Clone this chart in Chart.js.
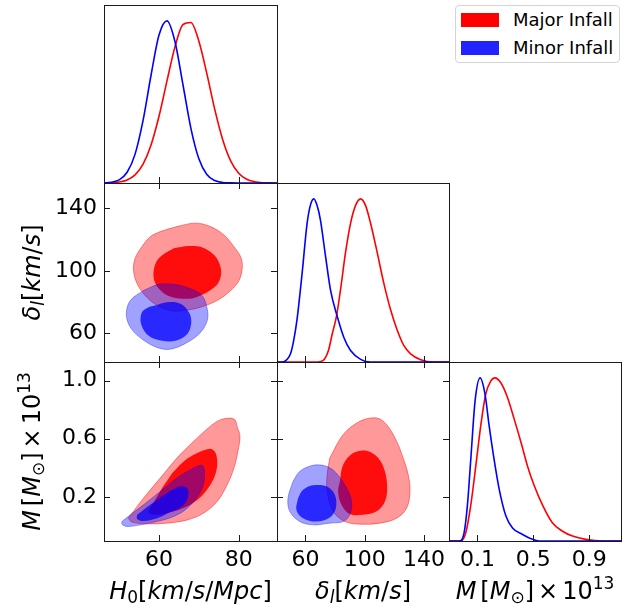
<!DOCTYPE html>
<html>
<head>
<meta charset="utf-8">
<script src="https://cdn.jsdelivr.net/npm/chart.js@4.4.0/dist/chart.umd.min.js"></script>
<style>
  body { margin: 0; background: #fff; }
  #fig { position: relative; width: 643px; height: 610px; overflow: hidden; }
  #fig canvas { position: absolute; left: 0; top: 0; pointer-events: none; }
  .legend { position: absolute; left: 455px; top: 5px; width: 163px; height: 56px; border: 1px solid #d4d4d4; border-radius: 4px; background: #fff; font: 18px "DejaVu Sans"; color: #000; }
  .legend .sw { position: absolute; left: 5px; width: 38px; height: 14px; }
  .legend .lab { position: absolute; left: 57px; line-height: 20px; white-space: nowrap; }
</style>
</head>
<body>
<div id="fig">
  <div class="legend" id="legend"></div>
</div>
<script>
// series
const seriesNames = ["Major Infall", "Minor Infall"];

// tick labels
const h0Ticks = [60, 80];
const deltaTicks = [60, 100, 140];
const massRowTicks = [0.2, 0.6, 1.0];
const massColTicks = [0.1, 0.5, 0.9];

// 1D marginals (peak normalised to 1)
const h0Grid = [46, 48, 50, 52, 54, 56, 58, 60, 62, 64, 66, 68, 70, 72, 74, 76, 78, 80, 82, 84, 86, 88, 90];
const h0Major = [0.0005, 0.002, 0.006, 0.019, 0.050, 0.116, 0.234, 0.411, 0.629, 0.839, 0.976, 0.989, 0.874, 0.674, 0.452, 0.265, 0.135, 0.060, 0.023, 0.008, 0.002, 0.0006, 0.0001];
const h0Minor = [0.0009, 0.005, 0.019, 0.066, 0.178, 0.386, 0.664, 0.912, 0.999, 0.872, 0.607, 0.337, 0.149, 0.052, 0.015, 0.003, 0.0005, 0, 0, 0, 0, 0, 0];

const deltaMajorX = [41, 68, 71, 73, 75.5, 78.0, 80.9, 83.6, 87.0, 90.4, 93.8, 97.2, 100.5, 103.9, 108.4, 112.9, 117.4, 121.9, 126.4, 130.9, 137.7, 146.7, 157];
const deltaMajorY = [0, 0, 0.005, 0.02, 0.07, 0.17, 0.28, 0.44, 0.67, 0.85, 0.96, 1.0, 0.96, 0.85, 0.67, 0.48, 0.32, 0.195, 0.10, 0.05, 0.014, 0, 0];
const deltaMinorX = [41, 45.3, 47.5, 49.9, 52, 54.3, 57.7, 61.1, 63.3, 65.6, 67.8, 70.1, 73.5, 76.9, 81.4, 85.9, 90.4, 97.2, 103.9, 157];
const deltaMinorY = [0, 0.002, 0.015, 0.05, 0.13, 0.26, 0.54, 0.85, 0.96, 1.0, 0.96, 0.87, 0.65, 0.44, 0.28, 0.15, 0.07, 0.016, 0, 0];

const massMajorX = [-0.104, -0.02, 0.016, 0.052, 0.088, 0.124, 0.159, 0.195, 0.224, 0.267, 0.315, 0.362, 0.41, 0.458, 0.506, 0.566, 0.638, 0.709, 0.781, 0.876, 0.996, 1.128];
const massMajorY = [0, 0, 0.05, 0.22, 0.46, 0.71, 0.9, 0.98, 1.0, 0.97, 0.88, 0.75, 0.61, 0.46, 0.34, 0.22, 0.11, 0.06, 0.03, 0.01, 0, 0];
const massMinorX = [-0.104, -0.032, 0.004, 0.028, 0.052, 0.083, 0.119, 0.154, 0.183, 0.219, 0.255, 0.303, 0.351, 0.423, 0.494, 0.542, 1.128];
const massMinorY = [0, 0, 0.05, 0.22, 0.5, 0.86, 1.0, 0.9, 0.71, 0.5, 0.32, 0.155, 0.08, 0.04, 0.01, 0, 0];

// 2D credible regions (outer = 95%, inner = 68%)
const h0DeltaMajorOuter = [[60.3,125.2],[64.5,128.4],[69.2,130.6],[72.9,128.4],[76.3,123.0],[78.8,115.5],[80.5,109.0],[80.9,102.6],[80.1,94.0],[78.0,87.5],[74.6,81.1],[70.4,76.8],[66.2,74.6],[62.8,74.6],[59.5,77.9],[56.5,84.3],[54.5,91.9],[53.6,100.5],[54.0,108.0],[55.7,115.5],[57.8,121.9]];
const h0DeltaMajorInner = [[63.7,114.5],[67.5,115.9],[70.4,115.5],[73.4,111.2],[75.0,105.8],[75.6,99.4],[75.0,92.9],[73.4,88.6],[70.4,84.3],[67.5,82.2],[63.3,83.2],[60.8,86.5],[59.1,91.9],[58.6,98.3],[59.3,105.8],[60.8,110.1]];
const h0DeltaMinorOuter = [[56.1,87.5],[59.9,91.4],[63.7,91.4],[67.9,88.6],[70.8,84.3],[72.1,75.7],[72.1,68.2],[70.4,60.6],[67.1,54.2],[62.8,49.9],[59.5,51.0],[55.7,56.4],[52.8,63.9],[51.8,72.5],[52.8,81.1]];
const h0DeltaMinorInner = [[59.1,77.9],[62.0,80.0],[65.4,79.0],[67.5,73.5],[68.1,67.1],[67.1,59.6],[64.1,55.3],[60.8,55.3],[57.4,58.5],[55.5,66.1],[55.7,73.5],[57.4,76.8]];

const h0MassMajorOuter = [[52.3,0.053],[56.1,0.191],[60.3,0.329],[64.5,0.467],[68.7,0.582],[72.9,0.686],[75.5,0.731],[78.8,0.736],[79.7,0.674],[80.3,0.617],[79.8,0.513],[78.8,0.398],[77.1,0.283],[74.6,0.168],[71.2,0.088],[67.1,0.041],[62.0,0.019],[57.0,0.014],[53.2,0.026]];
const h0MassMajorInner = [[63.3,0.363],[66.2,0.444],[69.6,0.501],[72.9,0.531],[74.2,0.501],[74.6,0.421],[73.8,0.329],[71.7,0.237],[69.6,0.179],[66.6,0.129],[62.8,0.094],[59.1,0.076],[57.4,0.094],[58.6,0.157],[60.8,0.26]];
const h0MassMinorOuter = [[50.7,0.03],[52.8,0.076],[56.1,0.145],[60.3,0.237],[64.5,0.329],[68.7,0.398],[70.8,0.417],[71.4,0.375],[71.2,0.294],[70.0,0.214],[67.1,0.122],[63.7,0.065],[59.5,0.03],[55.3,0.007],[51.9,-0.004],[50.7,0.012]];
const h0MassMinorInner = [[54.5,0.076],[57.8,0.145],[62.0,0.226],[65.4,0.272],[67.2,0.255],[67.2,0.191],[65.8,0.134],[62.8,0.094],[59.5,0.053],[56.1,0.034],[54.5,0.048]];

const deltaMassMajorOuter = [[76.4,0.467],[85.4,0.628],[96.7,0.72],[108.0,0.743],[114.7,0.697],[121.5,0.582],[125.9,0.467],[129.3,0.352],[130.5,0.237],[128.2,0.122],[121.5,0.053],[110.2,0.019],[96.7,0.012],[86.6,0.03],[78.6,0.1],[74.6,0.237],[74.6,0.352]];
const deltaMassMajorInner = [[83.2,0.306],[85.4,0.421],[92.2,0.501],[101.2,0.517],[109.1,0.467],[113.6,0.375],[115.1,0.26],[113.6,0.168],[108.0,0.1],[98.9,0.076],[89.9,0.081],[84.3,0.145],[82.0,0.237]];
const deltaMassMinorOuter = [[51.6,0.306],[56.1,0.375],[65.1,0.417],[74.2,0.41],[80.9,0.363],[87.7,0.26],[91.1,0.168],[89.9,0.076],[85.4,0.03],[76.4,0.019],[65.1,0.007],[56.1,0.03],[49.4,0.1],[48.2,0.191]];
const deltaMassMinorInner = [[55.0,0.191],[58.4,0.248],[65.1,0.279],[74.2,0.272],[79.8,0.214],[80.5,0.122],[76.4,0.058],[67.4,0.03],[58.4,0.053],[53.9,0.11]];

// layout
const W = 643, H = 610;
const COLS = [104, 277, 449, 621];
const ROWS = [5, 183, 362, 541];
const H0_RANGE = [46.2, 89.6];
const DELTA_X_RANGE = [40.8, 156.8];
const DELTA_Y_RANGE = [41.7, 156.3];
const MASS_RANGE = [-0.104, 1.128];
const PDF_RANGE = [0, 1.097];

const RED = "rgb(255,0,0)", BLUE = "rgb(0,0,255)";
const fig = document.getElementById("fig");

// legend
const legend = document.getElementById("legend");
[["#ff0000", 7, 4], ["#2323ff", 35, 32]].forEach(([c, swTop, labTop], i) => {
  const sw = document.createElement("div");
  sw.className = "sw"; sw.style.top = swTop + "px"; sw.style.background = c;
  const lab = document.createElement("div");
  lab.className = "lab"; lab.style.top = labTop + "px"; lab.textContent = seriesNames[i];
  legend.appendChild(sw); legend.appendChild(lab);
});

function curve(xs, ys, color) {
  return {
    data: xs.map((x, i) => ({ x, y: ys[i] })),
    showLine: true, borderColor: color, borderWidth: 1.6, pointRadius: 0,
    fill: false, cubicInterpolationMode: "monotone"
  };
}

function region(pts, fillColor, edgeColor) {
  return {
    data: pts.concat([pts[0]]).map(p => ({ x: p[0], y: p[1] })),
    showLine: true, fill: "shape", backgroundColor: fillColor,
    borderColor: edgeColor || "rgba(0,0,0,0)", borderWidth: edgeColor ? 1 : 0,
    pointRadius: 0, tension: 0.35
  };
}

function regions(majOuter, majInner, minOuter, minInner) {
  // first dataset is drawn on top
  return [
    region(minInner, "rgba(0,0,255,0.75)"),
    region(minOuter, "rgba(0,0,255,0.37)", "rgba(0,0,255,0.35)"),
    region(majInner, "rgba(255,0,0,0.92)"),
    region(majOuter, "rgba(255,0,0,0.4)", "rgba(255,0,0,0.45)")
  ];
}

const fmtInt = v => String(Math.round(v));
const fmt1 = v => v.toFixed(1);

function axis(range, showLabels, ticks, fmt, dir) {
  return {
    type: "linear", min: range[0], max: range[1], display: !!showLabels,
    grid: { display: false, drawTicks: false }, border: { display: false },
    ticks: {
      font: { family: "DejaVu Sans", size: 22 }, color: "#000",
      padding: dir === "x" ? 6 : 7, maxRotation: 0, minRotation: 0, autoSkip: false,
      callback: v => fmt(v)
    },
    afterBuildTicks: s => { s.ticks = (ticks || []).map(v => ({ value: v })); },
    afterFit: s => {
      if (dir === "x") s.height = showLabels ? 40 : 0;
      else s.width = showLabels ? 80 : 0;
    }
  };
}

// frame + inward tick marks
const framePlugin = {
  id: "frame",
  afterDraw(chart, args, opts) {
    const { ctx, chartArea: a, scales } = chart;
    const len = 6;
    ctx.save();
    ctx.strokeStyle = "#1a1a1a";
    ctx.lineWidth = 1;
    ctx.strokeRect(a.left + 0.5, a.top + 0.5, a.right - a.left, a.bottom - a.top);
    ctx.beginPath();
    (opts.xTicks || []).forEach(v => {
      const px = Math.round(scales.x.getPixelForValue(v)) + 0.5;
      ctx.moveTo(px, a.bottom); ctx.lineTo(px, a.bottom - len);
      if (opts.box) { ctx.moveTo(px, a.top); ctx.lineTo(px, a.top + len); }
    });
    (opts.yTicks || []).forEach(v => {
      const py = Math.round(scales.y.getPixelForValue(v)) + 0.5;
      ctx.moveTo(a.left, py); ctx.lineTo(a.left + len, py);
      ctx.moveTo(a.right, py); ctx.lineTo(a.right - len, py);
    });
    ctx.stroke();
    ctx.restore();
  }
};

// axis titles with sub/superscripts
function drawRich(ctx, segs, cx, cy, rotate) {
  const fontOf = s => (s.it ? "italic " : "") + (s.sz || 24) + 'px "DejaVu Sans"';
  ctx.save();
  ctx.translate(cx, cy);
  if (rotate) ctx.rotate(-Math.PI / 2);
  ctx.fillStyle = "#000";
  ctx.textBaseline = "alphabetic";
  ctx.textAlign = "left";
  const widths = segs.map(s => { ctx.font = fontOf(s); return ctx.measureText(s.t).width + (s.gap || 0); });
  let x = -widths.reduce((a, b) => a + b, 0) / 2;
  segs.forEach((s, i) => {
    ctx.font = fontOf(s);
    ctx.fillText(s.t, x, s.dy || 0);
    x += widths[i];
  });
  ctx.restore();
}

const titlePlugin = {
  id: "richTitles",
  afterDraw(chart, args, opts) {
    const a = chart.chartArea;
    if (opts.x) drawRich(chart.ctx, opts.x, (a.left + a.right) / 2, 599, false);
    if (opts.y) drawRich(chart.ctx, opts.y, 40, (a.top + a.bottom) / 2, true);
  }
};

const H0_TITLE = [{ t: "H", it: 1 }, { t: "0", sz: 17, dy: 4 }, { t: "[" }, { t: "km", it: 1 }, { t: "/" }, { t: "s", it: 1 }, { t: "/" }, { t: "Mpc", it: 1 }, { t: "]" }];
const DELTA_TITLE = [{ t: "δ", it: 1 }, { t: "l", it: 1, sz: 17, dy: 4 }, { t: "[" }, { t: "km", it: 1 }, { t: "/" }, { t: "s", it: 1 }, { t: "]" }];
const MASS_TITLE = [{ t: "M", it: 1, gap: 4 }, { t: "[" }, { t: "M", it: 1 }, { t: "⊙", sz: 17, dy: 4 }, { t: "]", gap: 4 }, { t: "×", gap: 4 }, { t: "10" }, { t: "13", sz: 17, dy: -10 }];

function makePanel(p) {
  const canvas = document.createElement("canvas");
  canvas.width = W; canvas.height = H;
  fig.insertBefore(canvas, legend);
  const left = COLS[p.col], right = COLS[p.col + 1];
  const top = ROWS[p.row], bottom = ROWS[p.row + 1];
  const yW = p.yLabels ? 80 : 0, xH = p.xLabels ? 40 : 0;
  new Chart(canvas, {
    type: "scatter",
    data: { datasets: p.datasets },
    options: {
      responsive: false, animation: false, devicePixelRatio: 1,
      layout: { autoPadding: false, padding: { left: left - yW, right: W - right, top: top, bottom: H - bottom - xH } },
      plugins: {
        legend: { display: false }, tooltip: { enabled: false },
        frame: { xTicks: p.xTicks, yTicks: p.yTicks, box: p.box },
        richTitles: { x: p.xTitle, y: p.yTitle }
      },
      scales: {
        x: axis(p.xRange, p.xLabels, p.xTicks, p.xFmt, "x"),
        y: axis(p.yRange, p.yLabels, p.yTicks, p.yFmt, "y")
      }
    },
    plugins: [framePlugin, titlePlugin]
  });
}

// top-left: H0 marginal
makePanel({
  col: 0, row: 0, xRange: H0_RANGE, yRange: PDF_RANGE, xTicks: h0Ticks, xFmt: fmtInt,
  datasets: [curve(h0Grid, h0Minor, BLUE), curve(h0Grid, h0Major, RED)]
});
// H0 vs delta
makePanel({
  col: 0, row: 1, xRange: H0_RANGE, yRange: DELTA_Y_RANGE, xTicks: h0Ticks, yTicks: deltaTicks, box: true,
  yLabels: true, xFmt: fmtInt, yFmt: fmtInt, yTitle: DELTA_TITLE,
  datasets: regions(h0DeltaMajorOuter, h0DeltaMajorInner, h0DeltaMinorOuter, h0DeltaMinorInner)
});
// H0 vs M
makePanel({
  col: 0, row: 2, xRange: H0_RANGE, yRange: MASS_RANGE, xTicks: h0Ticks, yTicks: massRowTicks, box: true,
  xLabels: true, yLabels: true, xFmt: fmtInt, yFmt: fmt1, xTitle: H0_TITLE, yTitle: MASS_TITLE,
  datasets: regions(h0MassMajorOuter, h0MassMajorInner, h0MassMinorOuter, h0MassMinorInner)
});
// delta marginal
makePanel({
  col: 1, row: 1, xRange: DELTA_X_RANGE, yRange: PDF_RANGE, xTicks: deltaTicks, xFmt: fmtInt,
  datasets: [curve(deltaMinorX, deltaMinorY, BLUE), curve(deltaMajorX, deltaMajorY, RED)]
});
// delta vs M
makePanel({
  col: 1, row: 2, xRange: DELTA_X_RANGE, yRange: MASS_RANGE, xTicks: deltaTicks, yTicks: massRowTicks, box: true,
  xLabels: true, xFmt: fmtInt, yFmt: fmt1, xTitle: DELTA_TITLE,
  datasets: regions(deltaMassMajorOuter, deltaMassMajorInner, deltaMassMinorOuter, deltaMassMinorInner)
});
// M marginal
makePanel({
  col: 2, row: 2, xRange: MASS_RANGE, yRange: PDF_RANGE, xTicks: massColTicks,
  xLabels: true, xFmt: fmt1, xTitle: MASS_TITLE,
  datasets: [curve(massMinorX, massMinorY, BLUE), curve(massMajorX, massMajorY, RED)]
});
</script>
</body>
</html>
